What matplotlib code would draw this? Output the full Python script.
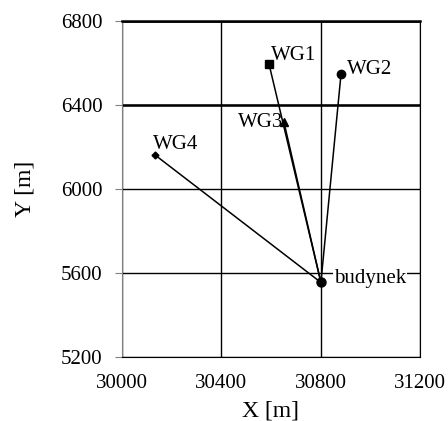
import matplotlib
matplotlib.use("Agg")
import matplotlib.pyplot as plt

# well positions and the building
names = ["WG1", "WG2", "WG3", "WG4"]
xs = [30592, 30882, 30652, 30133]
ys = [6595, 6548, 6319, 6162]
markers = ["s", "o", "^", "D"]
bud_x, bud_y = 30801, 5555

xticks = [30000, 30400, 30800, 31200]
yticks = [5200, 5600, 6000, 6400, 6800]

plt.rcParams['font.family'] = ['Liberation Serif', 'DejaVu Serif']

fig = plt.figure(figsize=(4.48, 4.21), dpi=100)
ax = fig.add_axes([122 / 448, 1 - 357 / 421, 298 / 448, 336 / 421])

for x, y, m in zip(xs, ys, markers):
    ax.plot([x, bud_x], [y, bud_y], color="black", lw=1.1, zorder=3)
    ms = 3.5 if m == "D" else 6
    ax.plot(x, y, marker=m, color="black", ms=ms, ls="none", zorder=4)
ax.plot(bud_x, bud_y, marker="o", color="black", ms=6.5, zorder=4)

# label offsets in pixels: (dx, dy, ha)
offsets = {"WG1": (2, 9, "left"), "WG2": (6, 4, "left"),
           "WG3": (-1, 0, "right"), "WG4": (-2, 10, "left")}
for n, x, y in zip(names, xs, ys):
    dx, dy, ha = offsets[n]
    ax.annotate(n, (x, y), xytext=(dx, dy), textcoords="offset pixels",
                fontsize=15, ha=ha, va="center", zorder=5)
ax.annotate("budynek", (bud_x, bud_y), xytext=(13, 4), textcoords="offset pixels",
            fontsize=15, ha="left", va="center", zorder=5,
            bbox=dict(facecolor="white", edgecolor="none", pad=0.5))

ax.set_xlim(30000, 31200)
ax.set_ylim(5200, 6800)
ax.set_xticks(xticks)
ax.set_yticks(yticks)
ax.grid(True, color="black", lw=1.0)
for yv in [6400, 6800]:
    ax.axhline(yv, color="black", lw=1.8)
ax.spines["left"].set_color("gray")
ax.spines["left"].set_linewidth(0.8)
for s in ["top", "right", "bottom"]:
    ax.spines[s].set_color("black")
ax.spines["top"].set_linewidth(1.8)
ax.tick_params(axis="x", length=0, labelsize=15, pad=12)
ax.tick_params(axis="y", length=5, color="gray", labelsize=15, pad=9)
ax.set_xlabel("X [m]", fontsize=17, labelpad=6)
ax.set_ylabel("Y [m]", fontsize=17, labelpad=18)

fig.savefig("out.png", dpi=100)
